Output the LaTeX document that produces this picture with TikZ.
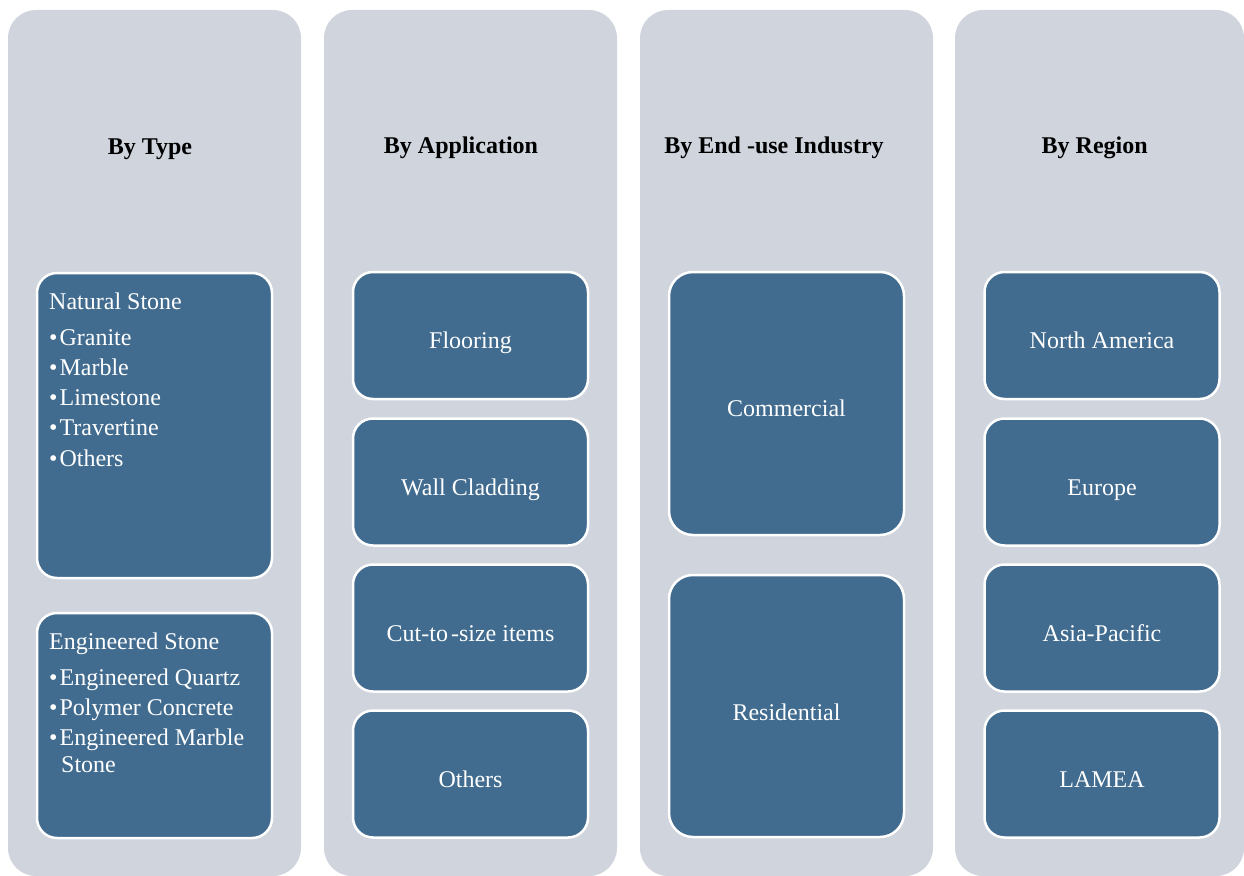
\documentclass[tikz,border=0pt]{standalone}
\usepackage{fontspec}
\setmainfont{Liberation Serif}
\definecolor{colgray}{RGB}{207,212,221}
\definecolor{boxblue}{RGB}{65,108,143}
\begin{document}
\begin{tikzpicture}[x=1pt,y=-1pt,
  colbox/.style={fill=colgray, draw=none, rounded corners=28pt, minimum width=293pt, minimum height=866pt, inner sep=0pt},
  segbox/.style={fill=boxblue, draw=white, line width=2.5pt, rounded corners=20pt, minimum width=235pt, inner sep=0pt},
  title/.style={font=\fontsize{24}{28}\selectfont\bfseries, text=black, anchor=base, inner sep=0pt},
  ctext/.style={font=\fontsize{24}{28}\selectfont, text=white, anchor=base, inner sep=0pt},
  ltext/.style={font=\fontsize{24}{28}\selectfont, text=white, anchor=base west, inner sep=0pt}]
\useasboundingbox (0,0) rectangle (1244,875);
\clip (0,0) rectangle (1244,875);
% columns
\node[colbox] (c1) at (154.5,443) {};
\node[colbox] (c2) at (470.5,443) {};
\node[colbox] (c3) at (786.5,443) {};
\node[colbox, minimum width=289pt] (c4) at (1099.5,443) {};
% titles
\node[title] (t1) at (150,154) {By Type};
\node[title] (t2) at (461,153) {By Application};
\node[title] (t3) at (774,153) {By End -use Industry};
\node[title] (t4) at (1094.7,153) {By Region};
% column 1
\node[segbox, minimum height=305pt] (ns) at (154.5,425.5) {};
\node[segbox, minimum height=225pt] (es) at (154.5,725.5) {};
\node[ltext] (nsh) at (49,309) {Natural Stone};
\node[ltext] (nb1) at (49,345) {•\kern2pt Granite};
\node[ltext] (nb2) at (49,375) {•\kern2pt Marble};
\node[ltext] (nb3) at (49,405.5) {•\kern2pt Limestone};
\node[ltext] (nb4) at (49,435.5) {•\kern2pt Travertine};
\node[ltext] (nb5) at (49,466) {•\kern2pt Others};
\node[ltext] (esh) at (49,649) {Engineered Stone};
\node[ltext] (eb1) at (49,685) {•\kern2pt Engineered Quartz};
\node[ltext] (eb2) at (49,715) {•\kern2pt Polymer Concrete};
\node[ltext] (eb3) at (49,745) {•\kern2pt Engineered Marble};
\node[ltext] (eb3b) at (61,772) {Stone};
% column 2
\node[segbox, minimum height=127pt] (a1) at (470.5,335.5) {};
\node[segbox, minimum height=127pt] (a2) at (470.5,482) {};
\node[segbox, minimum height=127pt] (a3) at (470.5,628) {};
\node[segbox, minimum height=127pt] (a4) at (470.5,774) {};
\node[ctext] (a1t) at (470.5,348) {Flooring};
\node[ctext] (a2t) at (470.5,495) {Wall Cladding};
\node[ctext] (a3t) at (470.5,641) {Cut-to\kern3pt-size items};
\node[ctext] (a4t) at (470.5,787) {Others};
% column 3
\node[segbox, rounded corners=24pt, minimum height=263pt] (u1) at (786.5,403.5) {};
\node[segbox, rounded corners=24pt, minimum height=262pt] (u2) at (786.5,706) {};
\node[ctext] (u1t) at (786.5,416) {Commercial};
\node[ctext] (u2t) at (786.5,720) {Residential};
% column 4
\node[segbox, minimum height=127pt] (r1) at (1102,335.5) {};
\node[segbox, minimum height=127pt] (r2) at (1102,482) {};
\node[segbox, minimum height=127pt] (r3) at (1102,628) {};
\node[segbox, minimum height=127pt] (r4) at (1102,774) {};
\node[ctext] (r1t) at (1102,348) {North America};
\node[ctext] (r2t) at (1102,495) {Europe};
\node[ctext] (r3t) at (1102,641) {Asia-Pacific};
\node[ctext] (r4t) at (1102,787) {LAMEA};
\end{tikzpicture}
\end{document}
